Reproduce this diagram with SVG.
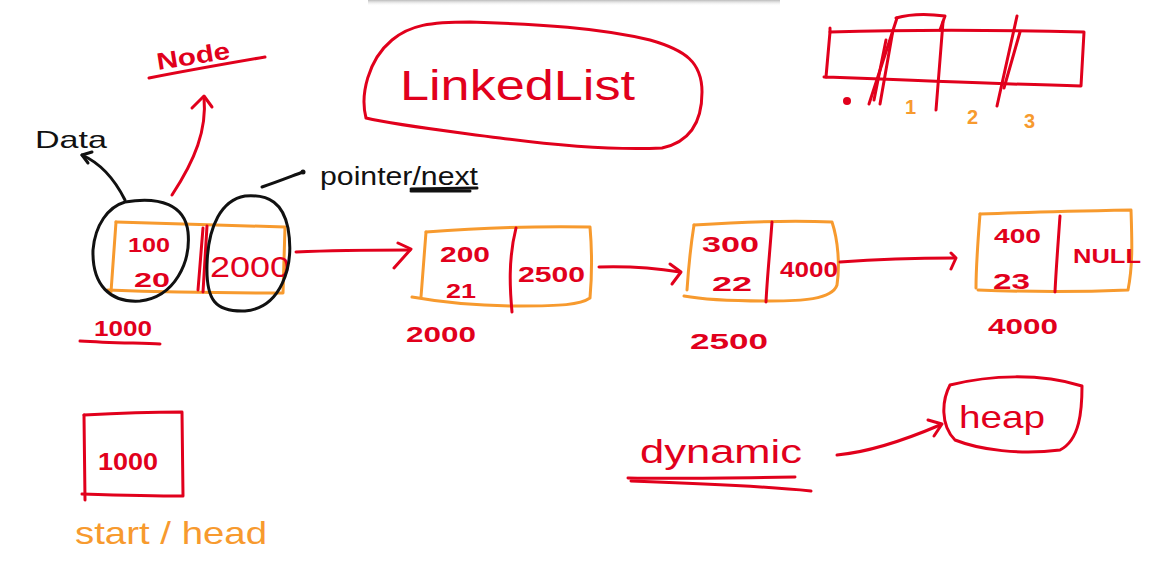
<svg xmlns="http://www.w3.org/2000/svg" width="1171" height="588" viewBox="0 0 1171 588">
<defs>
<style>
.r{fill:none;stroke:#e1001c;stroke-width:3;stroke-linecap:round;stroke-linejoin:round}
.o{fill:none;stroke:#f79a2e;stroke-width:3;stroke-linecap:round;stroke-linejoin:round}
.k{fill:none;stroke:#111;stroke-width:3;stroke-linecap:round;stroke-linejoin:round}
.tr{fill:#e1001c;font-family:"Liberation Sans",Arial,sans-serif}
.to{fill:#f79a2e;font-family:"Liberation Sans",Arial,sans-serif}
.tk{fill:#111;font-family:"Liberation Sans",Arial,sans-serif}
.b{font-weight:bold}
</style>
<linearGradient id="sh" x1="0" y1="0" x2="0" y2="1"><stop offset="0" stop-color="#bbb"/><stop offset="1" stop-color="#fff" stop-opacity="0"/></linearGradient>
</defs>
<rect width="1171" height="588" fill="#fff"/>
<rect x="368" y="0" width="412" height="6" fill="url(#sh)"/>

<g id="title">
<path class="r" d="M366,118 C360,95 368,60 392,40 C410,25 430,22 470,22 C540,24 600,28 650,40 C685,50 702,62 702,92 C702,122 690,142 662,148 C620,150 560,146 500,138 C440,130 395,125 366,118 Z"/>
<text class="tr" x="400" y="100" font-size="42" textLength="235" lengthAdjust="spacingAndGlyphs">LinkedList</text>
</g>

<g id="node-label">
<text class="tr b" x="158" y="70" font-size="24" textLength="74" lengthAdjust="spacingAndGlyphs" transform="rotate(-9 158 70)">Node</text>
<path class="r" d="M149,78 C190,70 230,63 265,57"/>
</g>

<g id="data-label">
<text class="tk" x="35" y="148" font-size="24" textLength="72" lengthAdjust="spacingAndGlyphs">Data</text>
</g>

<g id="pointer-label">
<text class="tk" x="320" y="185" font-size="26" textLength="158" lengthAdjust="spacingAndGlyphs">pointer/next</text>
<path class="k" d="M411,189 L477,188"/>
<path class="k" d="M411,191 L470,191"/>
</g>

<g id="array">
<path class="r" d="M830,28 L830,32 C900,30 1000,30 1084,32 L1081,86 C1000,84 900,80 824,77"/>
<path class="r" d="M830,32 L826,77"/>
<path class="r" d="M896,18 C910,14 930,14 945,16 L940,30"/>
<path class="r" d="M897,18 L869,104"/>
<path class="r" d="M893,30 L880,104"/>
<path class="r" d="M886,40 L874,100"/>
<path class="r" stroke-width="6" d="M943,22 L936,110"/>
<path class="r" d="M1017,16 L997,106"/>
<path class="r" d="M1020,32 L1004,88"/>
<circle cx="847" cy="101" r="4" fill="#e1001c"/>
<text class="to b" x="905" y="114" font-size="20">1</text>
<text class="to b" x="967" y="124" font-size="20">2</text>
<text class="to b" x="1024" y="128" font-size="20">3</text>
</g>

<g id="node1">
<path class="o" d="M116,222 C170,224 230,225 285,227 L283,293 C220,293 160,292 108,290"/>
<path class="o" d="M116,222 L111,292"/>
<path class="r" d="M203,228 L198,290"/>
<path class="r" d="M207,226 L203,292"/>
<text class="tr b" x="128" y="252" font-size="20" textLength="42" lengthAdjust="spacingAndGlyphs">100</text>
<text class="tr b" x="134" y="287" font-size="20" textLength="36" lengthAdjust="spacingAndGlyphs">20</text>
<text class="tr" x="210" y="277" font-size="30" textLength="80" lengthAdjust="spacingAndGlyphs">2000</text>
<path class="k" d="M125,202 C160,196 185,205 188,232 C191,262 175,297 140,301 C110,303 92,285 93,250 C95,225 108,207 125,202"/>
<path class="k" d="M245,196 C270,194 283,204 288,228 C295,268 280,308 245,311 C215,312 206,300 207,265 C208,225 222,200 245,196"/>
<text class="tr b" x="94" y="336" font-size="22" textLength="58" lengthAdjust="spacingAndGlyphs">1000</text>
<path class="r" d="M80,341 C110,343 140,343 160,344"/>
</g>

<g id="node2">
<path class="o" d="M426,232 C480,228 540,226 590,227 C592,250 592,275 590,298 C580,305 560,306 520,306 C480,306 440,302 412,297"/>
<path class="o" d="M426,232 L421,297"/>
<path class="r" d="M516,228 C508,260 510,290 512,312"/>
<text class="tr b" x="440" y="262" font-size="22" textLength="50" lengthAdjust="spacingAndGlyphs">200</text>
<text class="tr b" x="446" y="298" font-size="20" textLength="30" lengthAdjust="spacingAndGlyphs">21</text>
<text class="tr b" x="518" y="282" font-size="22" textLength="67" lengthAdjust="spacingAndGlyphs">2500</text>
<text class="tr b" x="406" y="342" font-size="22" textLength="70" lengthAdjust="spacingAndGlyphs">2000</text>
</g>

<g id="node3">
<path class="o" d="M694,225 C740,222 790,220 832,222 C838,240 840,265 837,285 C832,300 800,301 770,301 C730,301 705,300 684,296"/>
<path class="o" d="M694,225 C690,250 688,275 687,290"/>
<path class="r" d="M772,222 C770,250 767,280 766,302"/>
<text class="tr b" x="702" y="252" font-size="22" textLength="57" lengthAdjust="spacingAndGlyphs">300</text>
<text class="tr b" x="712" y="291" font-size="20" textLength="40" lengthAdjust="spacingAndGlyphs">22</text>
<text class="tr b" x="780" y="277" font-size="22" textLength="58" lengthAdjust="spacingAndGlyphs">4000</text>
<text class="tr b" x="690" y="349" font-size="22" textLength="78" lengthAdjust="spacingAndGlyphs">2500</text>
</g>

<g id="node4">
<path class="o" d="M980,214 C1030,212 1080,211 1131,210 C1132,240 1133,265 1128,290 C1080,292 1030,292 978,290"/>
<path class="o" d="M980,214 C978,240 976,265 976,288"/>
<path class="r" d="M1060,216 C1058,245 1056,270 1055,292"/>
<text class="tr b" x="994" y="243" font-size="20" textLength="47" lengthAdjust="spacingAndGlyphs">400</text>
<text class="tr b" x="993" y="289" font-size="22" textLength="37" lengthAdjust="spacingAndGlyphs">23</text>
<text class="tr b" x="1073" y="263" font-size="20" textLength="68" lengthAdjust="spacingAndGlyphs">NULL</text>
<text class="tr b" x="988" y="334" font-size="22" textLength="70" lengthAdjust="spacingAndGlyphs">4000</text>
</g>

<g id="head">
<path class="r" d="M84,415 C120,413 150,412 182,412 L183,496 C150,496 115,495 82,494"/>
<path class="r" d="M84,415 L85,500"/>
<text class="tr b" x="98" y="470" font-size="24" textLength="60" lengthAdjust="spacingAndGlyphs">1000</text>
<text class="to" x="75" y="544" font-size="32" textLength="192" lengthAdjust="spacingAndGlyphs">start / head</text>
</g>

<g id="dynamic">
<text class="tr" x="640" y="463" font-size="34" textLength="162" lengthAdjust="spacingAndGlyphs">dynamic</text>
<path class="r" d="M628,478 C680,479 740,478 795,477"/>
<path class="r" d="M631,481 C690,483 760,486 811,491"/>
</g>

<g id="heap">
<path class="r" d="M950,385 C990,375 1040,373 1082,386 C1082,410 1080,440 1060,450 C1020,455 980,450 955,440 C940,425 942,400 950,385 Z"/>
<text class="tr" x="959" y="428" font-size="32" textLength="86" lengthAdjust="spacingAndGlyphs">heap</text>
</g>

<g id="connectors">
<path class="k" d="M125,200 C115,180 100,163 82,155"/>
<path class="k" d="M82,155 L92,152 M82,155 L88,163"/>
<path class="r" d="M172,195 C195,160 207,130 204,97"/>
<path class="r" d="M192,108 L204,96 L212,107"/>
<path class="k" d="M262,187 C280,181 292,176 303,172"/>
<circle cx="303" cy="172" r="2.5" fill="#111"/>
<path class="r" d="M296,252 C340,250 380,250 410,250"/>
<path class="r" d="M398,243 L411,249 L394,268"/>
<path class="r" d="M599,267 C630,266 655,268 680,272"/>
<path class="r" d="M670,264 L681,272 L672,284"/>
<path class="r" d="M840,262 C880,259 920,258 955,258"/>
<path class="r" d="M951,253 L956,258 L951,269"/>
<path class="r" d="M837,455 C870,452 905,440 940,425"/>
<path class="r" d="M928,420 L942,424 L934,436"/>
</g>
</svg>
